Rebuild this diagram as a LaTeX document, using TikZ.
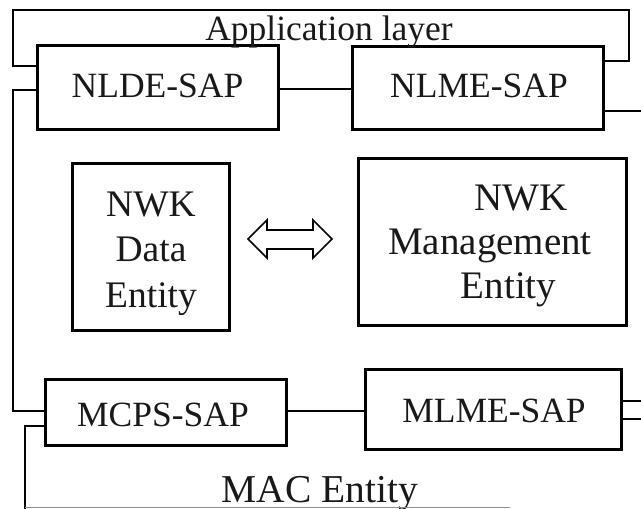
\documentclass[tikz,border=0pt]{standalone}
\usepackage{fontspec}
\setmainfont{Liberation Serif}
\begin{document}
\begin{tikzpicture}[x=1pt,y=-1pt,
  sapbox/.style={draw, line width=3pt, inner sep=0pt},
  entbox/.style={draw, line width=3pt, inner sep=0pt},
  lbl/.style={font=\fontsize{35.5}{42}\selectfont, inner sep=0pt, text=black!90},
  wire/.style={line width=2pt},
  thinwire/.style={line width=1.5pt}]
\useasboundingbox (0,0) rectangle (641,509);

% service access points
\node[sapbox, minimum width=241pt, minimum height=84.5pt] (nlde) at (157.5,87.25) {};
\node[lbl, anchor=base] (nldet) at (157.5,97) {NLDE-SAP};
\node[sapbox, minimum width=251pt, minimum height=83.5pt] (nlme) at (477.5,87.75) {};
\node[lbl, anchor=base] (nlmet) at (479,97) {NLME-SAP};
\node[sapbox, minimum width=241pt, minimum height=66pt] (mcps) at (165.5,412) {};
\node[lbl, anchor=base] (mcpst) at (163,426) {MCPS-SAP};
\node[sapbox, minimum width=256.5pt, minimum height=80pt] (mlme) at (493.25,409) {};
\node[lbl, anchor=base] (mlmet) at (494,422) {MLME-SAP};

% network layer entities
\node[entbox, minimum width=157pt, minimum height=167pt] (data) at (150.5,246.5) {};
\node[lbl, align=center, font=\fontsize{37.5}{45.5}\selectfont] (datat) at (151,253.5) {NWK\\Data\\Entity};
\node[entbox, minimum width=268pt, minimum height=167pt] (mgmt) at (492,241.5) {};
\node[lbl, align=center, font=\fontsize{39}{44}\selectfont] (mgmtt) at (490,245.5) {\hspace*{62pt}NWK\\Management\\\hspace*{37pt}Entity};

% layer captions
\node[lbl, anchor=base] (app) at (329,40) {Application layer};
\node[lbl, anchor=base, font=\fontsize{39.5}{44}\selectfont] (mac) at (320,502) {MAC Entity};

% double arrow between the two entities
\draw[line width=1.6pt, fill=white, line join=miter]
  (248,239) -- (267,220) -- (267,230) -- (313,230) -- (313,220) -- (332,239)
  -- (313,258) -- (313,249) -- (267,249) -- (267,258) -- cycle;

% application layer outline
\coordinate (appr) at (629,61);
\draw[wire] (nlde.west |- 0,66) -- (13,66) -- (13,10) -- (629,10) -- (appr) -- (nlme.east |- appr);

% connectors
\draw[wire] (nlde.east |- 0,89) -- (nlme.west |- 0,89);
\coordinate (nlmeout) at (641,111);
\draw[thinwire] (nlme.east |- nlmeout) -- (nlmeout);
\coordinate (mcpsin) at (13,411);
\draw[wire] (nlde.west |- 0,90) -- (13,90) -- (mcpsin) -- (mcps.west |- mcpsin);
\draw[wire] (mcps.east |- 0,411) -- (mlme.west |- 0,411);
\coordinate (mlmeoutA) at (641,401);
\coordinate (mlmeoutB) at (641,419);
\draw[thinwire] (mlme.east |- mlmeoutA) -- (mlmeoutA);
\draw[thinwire] (mlme.east |- mlmeoutB) -- (mlmeoutB);

% MAC entity outline
\coordinate (macl) at (25,509);
\draw[wire] (mcps.west |- 0,426) -- (25,426) -- (macl);
\draw[line width=1.5pt, black!45] (25,507.5) -- (510,507.5);
\end{tikzpicture}
\end{document}
